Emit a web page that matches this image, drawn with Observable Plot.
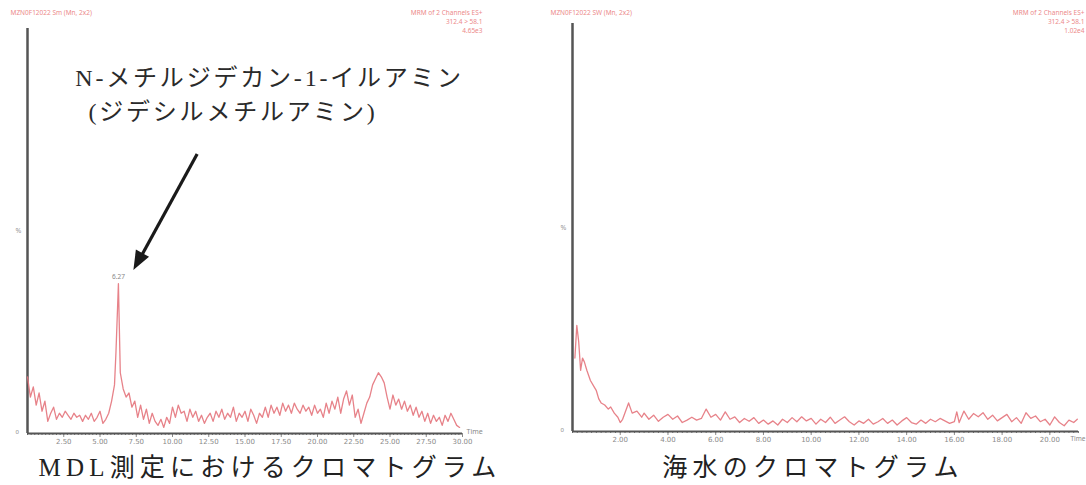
<!DOCTYPE html>
<html>
<head>
<meta charset="utf-8">
<script src="https://cdn.jsdelivr.net/npm/d3@7"></script>
<script src="https://cdn.jsdelivr.net/npm/@observablehq/plot@0.6"></script>
<style>
  html, body { margin: 0; padding: 0; background: #fff; overflow: hidden; }
  #wrap { display: flex; width: 1086px; height: 485px; }
  .fig { position: relative; }
  .cap { font-family: "Liberation Serif", "Noto Sans CJK JP", serif; font-size: 25px; letter-spacing: 5.2px;
         color: #222; text-align: center; height: 35px; line-height: 35px; }
  [aria-label="annot"], [aria-label="annot"] text { letter-spacing: 2.8px; }
</style>
</head>
<body>
<div id="wrap">
  <div class="fig" id="left"></div>
  <div class="fig" id="right"></div>
</div>
<script>
// ---- data ----
const mdlTicks = [2.5, 5, 7.5, 10, 12.5, 15, 17.5, 20, 22.5, 25, 27.5, 30];
const seaTicks = [2, 4, 6, 8, 10, 12, 14, 16, 18, 20];

// MDL chromatogram: [retention time (min), relative intensity (%)]
const mdlTrace = [
  [0.0,14],[0.2,9],[0.4,11.5],[0.6,7],[0.8,10],[1.0,5.5],[1.2,8],[1.4,3],[1.6,5],[1.8,6.5],
  [2.0,3.5],[2.2,5],[2.4,4],[2.6,5.5],[2.8,4.5],[3.0,3.5],[3.2,5],[3.4,4],[3.6,4.5],[3.8,3],
  [4.0,4.5],[4.2,3.5],[4.4,5],[4.6,3],[4.8,4],[5.0,5.5],[5.2,2.5],[5.4,3.5],[5.6,5],[5.8,8],
  [6.0,12],[6.1,20],[6.27,37],[6.4,15],[6.6,11],[6.8,9],[7.0,10],[7.2,6.5],[7.4,8],[7.6,4],
  [7.8,7],[8.0,3.5],[8.2,6],[8.4,2.5],[8.6,5],[8.8,3],[9.0,2],[9.2,3.5],[9.4,1.5],[9.6,4],
  [9.8,2.5],[10.0,6.5],[10.2,4],[10.4,7],[10.6,5],[10.8,5.5],[11.0,3],[11.2,6],[11.4,4],[11.6,5.5],
  [11.8,3],[12.0,4.5],[12.2,2.5],[12.4,4],[12.6,5],[12.8,3],[13.0,5.5],[13.2,4],[13.4,6],[13.6,3.5],
  [13.8,5],[14.0,4],[14.2,6.5],[14.4,3],[14.6,5],[14.8,4],[15.0,5.5],[15.2,3],[15.4,6],[15.6,4.5],
  [15.8,2.5],[16.0,5],[16.2,4],[16.4,6.5],[16.6,4],[16.8,7],[17.0,5],[17.2,6.5],[17.4,4.5],[17.6,7.5],
  [17.8,5.5],[18.0,7],[18.2,5],[18.4,7.5],[18.6,6],[18.8,5],[19.0,7],[19.2,5.5],[19.4,6.5],[19.6,4.5],
  [19.8,7],[20.0,5],[20.2,6],[20.4,4],[20.6,7.5],[20.8,5],[21.0,8],[21.2,6],[21.4,9],[21.6,5],
  [21.8,8.5],[22.0,10.5],[22.2,7],[22.4,9.5],[22.6,4],[22.8,6],[23.0,2.5],[23.2,5],[23.4,7.5],[23.6,9],
  [23.8,12],[24.0,13.5],[24.2,15],[24.4,14],[24.6,12.5],[24.8,9],[25.0,6],[25.2,9.5],[25.4,7],[25.6,8.5],
  [25.8,6],[26.0,8],[26.2,5.5],[26.4,7],[26.6,4.5],[26.8,6.5],[27.0,4],[27.2,5.5],[27.4,3],[27.6,5],
  [27.8,2.5],[28.0,4.5],[28.2,3],[28.4,4],[28.6,2],[28.8,4.5],[29.0,3],[29.2,5],[29.4,3.5],[29.6,2],
  [29.8,1.5]
];
const mdlPeak = [{t: 6.27, v: 37, label: "6.27"}];

// Seawater chromatogram
const seaTrace = [
  [0.1,18],[0.18,26],[0.26,22],[0.34,15],[0.42,18],[0.5,17],[0.6,15],[0.75,12.5],[0.9,11],[1.0,10],
  [1.1,8],[1.2,7],[1.35,6.5],[1.5,5.5],[1.6,6],[1.75,4.5],[1.9,3.5],[2.0,2.2],[2.1,3],[2.2,4.6],
  [2.35,7],[2.5,4.5],[2.7,5],[2.9,3.5],[3.0,4.5],[3.2,3],[3.4,4],[3.6,2.5],[3.8,3.5],[4.0,4.2],
  [4.2,3],[4.4,3.8],[4.6,2.2],[4.8,2.8],[5.0,3.5],[5.2,2.8],[5.4,3.2],[5.6,5.5],[5.8,3.5],[6.0,4.2],
  [6.2,2.8],[6.4,4.8],[6.6,3],[6.8,3.6],[7.0,2.2],[7.2,3.2],[7.4,2.5],[7.6,3.4],[7.8,2],[8.0,2.8],
  [8.2,1.8],[8.4,2.6],[8.6,1.6],[8.8,3],[9.0,2.2],[9.2,3.4],[9.4,2.4],[9.6,3.6],[9.8,2.6],[10.0,3.2],
  [10.2,1.8],[10.4,3],[10.6,2.2],[10.8,3.5],[11.0,2],[11.2,2.8],[11.4,3.6],[11.6,2.4],[11.8,1.6],[12.0,2.6],
  [12.2,2],[12.4,3],[12.6,1.8],[12.8,2.4],[13.0,3.2],[13.2,2],[13.4,2.8],[13.6,1.6],[13.8,2.6],[14.0,3.4],
  [14.2,2.2],[14.4,1.8],[14.6,2.8],[14.8,2],[15.0,3],[15.2,2.4],[15.4,3.2],[15.6,2.6],[15.8,2],[16.0,2.4],
  [16.1,4.8],[16.2,2.2],[16.4,5],[16.6,3],[16.8,4.4],[17.0,3.6],[17.2,4.6],[17.4,3],[17.6,4],[17.8,2.6],
  [18.0,3.4],[18.2,4.2],[18.4,2.4],[18.6,3.4],[18.8,2],[19.0,4.6],[19.2,3.2],[19.4,3.8],[19.6,2.4],[19.8,3],
  [20.0,1.6],[20.2,3.6],[20.4,2.2],[20.6,1.4],[20.8,2.8],[21.0,2.2],[21.15,3]
];

// annotation (in data coordinates: minutes, %)
const annotLines = [
  {t: 3.3, v: 87.6, text: "N-メチルジデカン-1-イルアミン"},
  {t: 4.2, v: 79.2, text: "(ジデシルメチルアミン)"}
];
const annotArrow = [{t1: 11.7, v1: 69, t2: 7.77, v2: 43.3}];
const annotArrowTip = [{t: 7.3, v: 40.4}];

const mdlHeaderLeft = "MZN0F12022 Sm (Mn, 2x2)";
const mdlHeaderRight = ["MRM of 2 Channels ES+", "312.4 > 58.1", "4.65e3"];
const seaHeaderLeft = "MZN0F12022 SW (Mn, 2x2)";
const seaHeaderRight = ["MRM of 2 Channels ES+", "312.4 > 58.1", "1.02e4"];

// ---- drawing ----
const traceColor = "#e4747c";
const headColor = "#ec8a8a";
const axisColor = "#555";

// filled triangular arrowhead; tip at the anchor point when anchor = "end"
const headShape = {
  draw(context, l, r) {
    context.moveTo(0, -l);
    context.lineTo(-r, 0);
    context.lineTo(r, 0);
    context.closePath();
  }
};

function panel({trace, ticks, minorStep, xmax, width, marginLeft, marginRight, marginTop, marginBottom,
                headerLeft, headerRight, headerDx, extra, zeroLabel}) {
  const minor = d3.range(0, xmax + 1e-9, minorStep);
  return Plot.plot({
    width, height: 450, marginLeft, marginRight, marginTop, marginBottom,
    x: {domain: [0, xmax]},
    y: {domain: [0, 100], axis: null},
    style: {background: "transparent", overflow: "visible"},
    marks: [
      Plot.axisX({ticks: minor, tickSize: 2, tickFormat: () => "", stroke: "#777", label: null}),
      Plot.axisX({ticks, tickSize: 4, tickPadding: 2, tickFormat: d3.format(".2f"), color: "#8a8a8a",
                  fontSize: 7, label: null, fontFamily: "DejaVu Sans"}),
      Plot.ruleY([0], {stroke: axisColor, strokeWidth: 2}),
      Plot.ruleX([0], {stroke: axisColor, strokeWidth: 2.5}),
      Plot.line(trace, {x: d => d[0], y: d => d[1], stroke: traceColor, strokeWidth: 1.3, strokeOpacity: 0.9}),
      Plot.text([headerLeft], {frameAnchor: "top-left", dx: -(marginLeft - 10), dy: -marginTop + 10,
                text: d => d, fill: headColor, fontSize: 6.5, textAnchor: "start"}),
      ...headerRight.map((h, i) => Plot.text([h], {frameAnchor: "top-right", dx: headerDx, dy: -marginTop + 10 + 9 * i,
                text: d => d, fill: headColor, fontSize: 6.5, textAnchor: "end"})),
      Plot.text(["%"], {frameAnchor: "left", dx: -12, text: d => d, fill: "#999", fontSize: 7}),
      Plot.text([zeroLabel], {frameAnchor: "bottom-left", dx: -12, text: d => d, fill: "#888", fontSize: 6}),
      ...extra
    ]
  });
}

const left = panel({
  trace: mdlTrace, ticks: mdlTicks, minorStep: 0.25, xmax: 30,
  width: 540, marginLeft: 27, marginRight: 78, marginTop: 28, marginBottom: 17,
  headerLeft: mdlHeaderLeft, headerRight: mdlHeaderRight, headerDx: 20, zeroLabel: "0",
  extra: [
    Plot.text(["Time"], {frameAnchor: "bottom-right", dx: 4, text: d => d, fill: "#8a8a8a", fontSize: 7, textAnchor: "start"}),
    Plot.text(mdlPeak, {x: "t", y: "v", text: "label", dy: -7, fill: "#888", fontSize: 6.5}),
    Plot.link(annotArrow, {x1: "t1", y1: "v1", x2: "t2", y2: "v2", stroke: "#1a1a1a", strokeWidth: 3.2}),
    Plot.vector(annotArrowTip, {x: "t", y: "v", length: 19, r: 7.5, rotate: 208.7, anchor: "end",
      shape: headShape, fill: "#1a1a1a", stroke: "none"}),
    Plot.text(annotLines, {x: "t", y: "v", text: "text", textAnchor: "start", fontSize: 24, fill: "#2a2a2a",
      fontFamily: "Liberation Serif, Noto Sans CJK JP, serif", ariaLabel: () => "annot"})
  ]
});

const right = panel({
  trace: seaTrace, ticks: seaTicks, minorStep: 0.2, xmax: 21.2,
  width: 546, marginLeft: 32, marginRight: 8, marginTop: 23, marginBottom: 19,
  headerLeft: seaHeaderLeft, headerRight: seaHeaderRight, headerDx: 6, zeroLabel: "0",
  extra: [
    Plot.text(["Time"], {frameAnchor: "bottom-right", dx: 7, dy: 9, text: d => d, fill: "#8a8a8a", fontSize: 6.5, textAnchor: "end"})
  ]
});

const capL = document.createElement("div");
capL.className = "cap";
capL.textContent = "MDL測定におけるクロマトグラム";
const capR = document.createElement("div");
capR.className = "cap";
capR.textContent = "海水のクロマトグラム";

document.getElementById("left").append(left, capL);
document.getElementById("right").append(right, capR);
</script>
</body>
</html>
